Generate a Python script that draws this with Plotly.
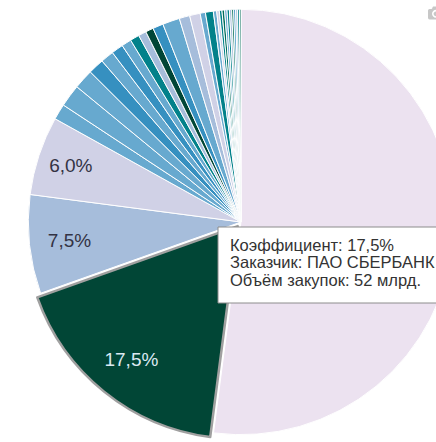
import plotly.graph_objects as go

# ---- data ----
labels = ["Прочие заказчики", "ПАО СБЕРБАНК", "Заказчик 3", "Заказчик 4",
          "Заказчик 5", "Заказчик 6", "Заказчик 7", "Заказчик 8", "Заказчик 9",
          "Заказчик 10", "Заказчик 11", "Заказчик 12", "Заказчик 13", "Заказчик 14",
          "Заказчик 15", "Заказчик 16", "Заказчик 17", "Заказчик 18", "Заказчик 19",
          "Заказчик 20", "Заказчик 21", "Заказчик 22", "Заказчик 23", "Заказчик 24",
          "Заказчик 25", "Заказчик 26", "Заказчик 27", "Заказчик 28", "Заказчик 29",
          "Заказчик 30", "Заказчик 31", "Заказчик 32"]
shares = [52.05, 17.5, 7.5, 6.0,
          1.2, 1.7, 1.5, 1.2, 1.0, 0.9, 0.75, 0.7, 0.6, 0.6, 0.8, 1.3, 0.8, 0.8, 0.4, 0.6,
          0.25, 0.2, 0.2, 0.2, 0.18, 0.18, 0.17, 0.15, 0.15, 0.14, 0.14, 0.12]
slice_text = ["", "\u00a0<br>\u00a0<br>17,5%" + "\u00a0" * 7, "7,5%", "6,0%"] + [""] * 28
slice_colors = ["#ece2f0", "#014636", "#a6bddb", "#d0d1e6",
                "#67a9cf", "#67a9cf", "#67a9cf", "#3690c0", "#67a9cf", "#3690c0",
                "#67a9cf", "#02818a", "#a6bddb", "#014636", "#3690c0", "#67a9cf",
                "#a6bddb", "#d0d1e6", "#67a9cf", "#02818a",
                "#67a9cf", "#d0d1e6", "#02818a", "#016c59", "#67a9cf", "#02818a",
                "#a6bddb", "#016c59", "#3690c0", "#a6bddb", "#02818a", "#016c59"]
text_colors = ["#333333", "#dbe9f2", "#333344", "#333344"] + ["#333333"] * 28
tooltip_lines = ["Коэффициент: 17,5%", "Заказчик: ПАО СБЕРБАНК", "Объём закупок: 52 млрд."]

W, H = 482, 442
ML, MR, MT, MB = 0, 0, 4, 2

def px_x(x):
    return (x - ML) / (W - ML - MR)

def px_y(y):
    return (H - MB - y) / (H - MT - MB)

n = len(shares)
pull = [0.0] * n
pull[1] = 0.025
line_colors = ["#ffffff"] * n
line_colors[1] = "#a0a0a0"
line_widths = [1] * n
line_widths[1] = 2.5

fig = go.Figure(go.Pie(
    labels=labels, values=shares, text=slice_text,
    textinfo="text", textposition="inside", insidetextorientation="horizontal",
    sort=False, direction="clockwise", rotation=0, pull=pull,
    marker=dict(colors=slice_colors, line=dict(color=line_colors, width=line_widths)),
    insidetextfont=dict(family="Liberation Sans, Arial", size=19, color=text_colors),
    showlegend=False, hoverinfo="skip",
))

shapes = [dict(type="rect", xref="paper", yref="paper", layer="above",
               x0=px_x(218), x1=px_x(475), y0=px_y(303), y1=px_y(227),
               line=dict(color="#8c8c8c", width=1), fillcolor="#ffffff")]
annotations = []
for i, line in enumerate(tooltip_lines):
    annotations.append(dict(xref="paper", yref="paper", x=px_x(228), y=px_y(245 + 17.3 * i),
                            xanchor="left", yanchor="middle", showarrow=False, text=line,
                            font=dict(family="Liberation Sans, Arial", size=16.5, color="#333333")))

fig.update_layout(width=W, height=H, autosize=False,
                  margin=dict(l=ML, r=MR, t=MT, b=MB),
                  paper_bgcolor="#ffffff", plot_bgcolor="#ffffff",
                  shapes=shapes, annotations=annotations)

fig.write_html("out.html", post_script="document.body.style.margin='0';document.body.style.overflow='hidden';document.documentElement.style.overflow='hidden';")
